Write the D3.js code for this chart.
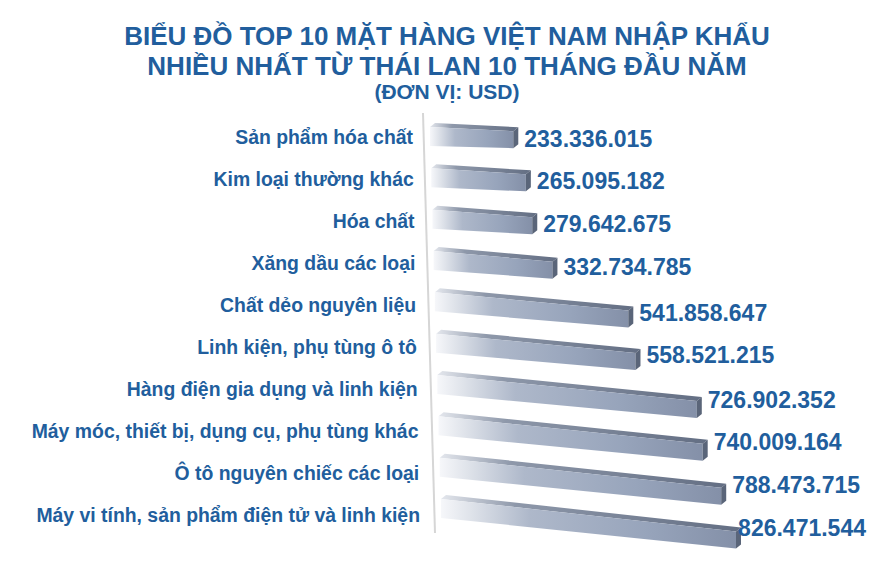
<!DOCTYPE html>
<html><head><meta charset="utf-8">
<script src="https://cdn.jsdelivr.net/npm/d3@7"></script>
<style>html,body{margin:0;padding:0;background:#fff;}svg{display:block;}</style>
</head><body>
<script>
const categories = ["Sản phẩm hóa chất","Kim loại thường khác","Hóa chất","Xăng dầu các loại","Chất dẻo nguyên liệu","Linh kiện, phụ tùng ô tô","Hàng điện gia dụng và linh kiện","Máy móc, thiết bị, dụng cụ, phụ tùng khác","Ô tô nguyên chiếc các loại","Máy vi tính, sản phẩm điện tử và linh kiện"];
const values = [233336015,265095182,279642675,332734785,541858647,558521215,726902352,740009164,788473715,826471544];
const titleLines = ["BIỂU ĐỒ TOP 10 MẶT HÀNG VIỆT NAM NHẬP KHẨU","NHIỀU NHẤT TỪ THÁI LAN 10 THÁNG ĐẦU NĂM"];
const unitLabel = "(ĐƠN VỊ: USD)";

const W = 877, H = 580;
const blue = "#215e9d";
const font = "'Liberation Sans', Arial, sans-serif";
const vn = d3.formatLocale({decimal: ",", thousands: ".", grouping: [3], currency: ["", ""]});
const fmt = vn.format(",d");

const svg = d3.select("body").append("svg").attr("width", W).attr("height", H);
const defs = svg.append("defs");

const gf = defs.append("linearGradient").attr("id", "front").attr("x1", 0).attr("x2", 1).attr("y1", 0).attr("y2", 0);
[[0, "#f6f7fa"], [0.1, "#dfe3ea"], [0.3, "#aeb8ca"], [0.7, "#97a4bb"], [1, "#8490a8"]].forEach(([o, c]) => gf.append("stop").attr("offset", o).attr("stop-color", c));
const gt = defs.append("linearGradient").attr("id", "top").attr("x1", 0).attr("x2", 1).attr("y1", 0).attr("y2", 0);
[[0, "#e4e7ed"], [0.25, "#8e98aa"], [1, "#636e83"]].forEach(([o, c]) => gt.append("stop").attr("offset", o).attr("stop-color", c));

// Title
const tg = svg.append("g").attr("font-family", font).attr("font-weight", "bold").attr("fill", blue).attr("text-anchor", "middle");
tg.selectAll("text.t").data(titleLines).join("text").attr("class", "t")
  .attr("x", 447).attr("y", (d, i) => 45 + i * 30).attr("font-size", 26).text(d => d);
tg.append("text").attr("x", 447).attr("y", 99).attr("font-size", 21).text(unitLabel);

// Scales
const x = d3.scaleLinear().domain([0, d3.max(values)]).range([0, 295]);
const idx = d3.scaleLinear().domain([0, categories.length - 1]);
const leftX = idx.copy().range([430, 441]);
const slope = d3.scaleLinear().domain([0, 3, 9]).range([0.05, 0.09, 0.11]);
const barTop = d3.scalePoint().domain(categories).range([127, 499]);
const labelY = d3.scalePoint().domain(categories).range([137, 515]);
const labelX = idx.copy().range([413, 420]);
const h = 19, dx = 5, dy = 4;

// axis line
svg.append("line").attr("x1", leftX(0) - 7).attr("y1", barTop(categories[0]) - 14)
  .attr("x2", leftX(9) - 6).attr("y2", barTop(categories[9]) + 34)
  .attr("stroke", "#d6d6d6").attr("stroke-width", 2);

const rows = categories.map((c, i) => {
  const x0 = leftX(i), t = barTop(c), s = slope(i), L = x(values[i]);
  return {c, v: values[i], i, x0, t, s, L, x1: x0 + L, t1: t + s * L};
});

const bars = svg.append("g").selectAll("g").data(rows).join("g");
const pts = a => a.map(p => p.join(",")).join(" ");
bars.append("polygon").attr("fill", "url(#top)")
  .attr("points", d => pts([[d.x0, d.t], [d.x0 + dx, d.t - dy], [d.x1 + dx, d.t1 - dy], [d.x1, d.t1]]));
bars.append("polygon").attr("fill", "url(#front)")
  .attr("points", d => pts([[d.x0, d.t], [d.x1, d.t1], [d.x1, d.t1 + h - 2], [d.x0, d.t + h]]));
bars.append("polygon").attr("fill", "#5a6579")
  .attr("points", d => pts([[d.x1, d.t1], [d.x1 + dx, d.t1 - dy], [d.x1 + dx, d.t1 + h - 2 - dy], [d.x1, d.t1 + h - 2]]));

// category labels
svg.append("g").selectAll("text").data(rows).join("text")
  .attr("x", d => labelX(d.i)).attr("y", d => labelY(d.c) + 7)
  .attr("text-anchor", "end").attr("font-family", font).attr("font-weight", "bold")
  .attr("font-size", 19.4).attr("fill", blue).text(d => d.c);

// value labels (kept inside the chart area, like the source chart)
svg.append("g").selectAll("text").data(rows).join("text")
  .attr("y", d => d.t + d.s * d.L * 0.6 + h / 2 + 8)
  .attr("font-family", font).attr("font-weight", "bold")
  .attr("font-size", 23).attr("fill", blue).text(d => fmt(d.v))
  .attr("x", function(d) {
    const w = this.getComputedTextLength();
    return Math.min(d.x1 + dx + 6, W - 11 - w);
  });
</script>
</body></html>
